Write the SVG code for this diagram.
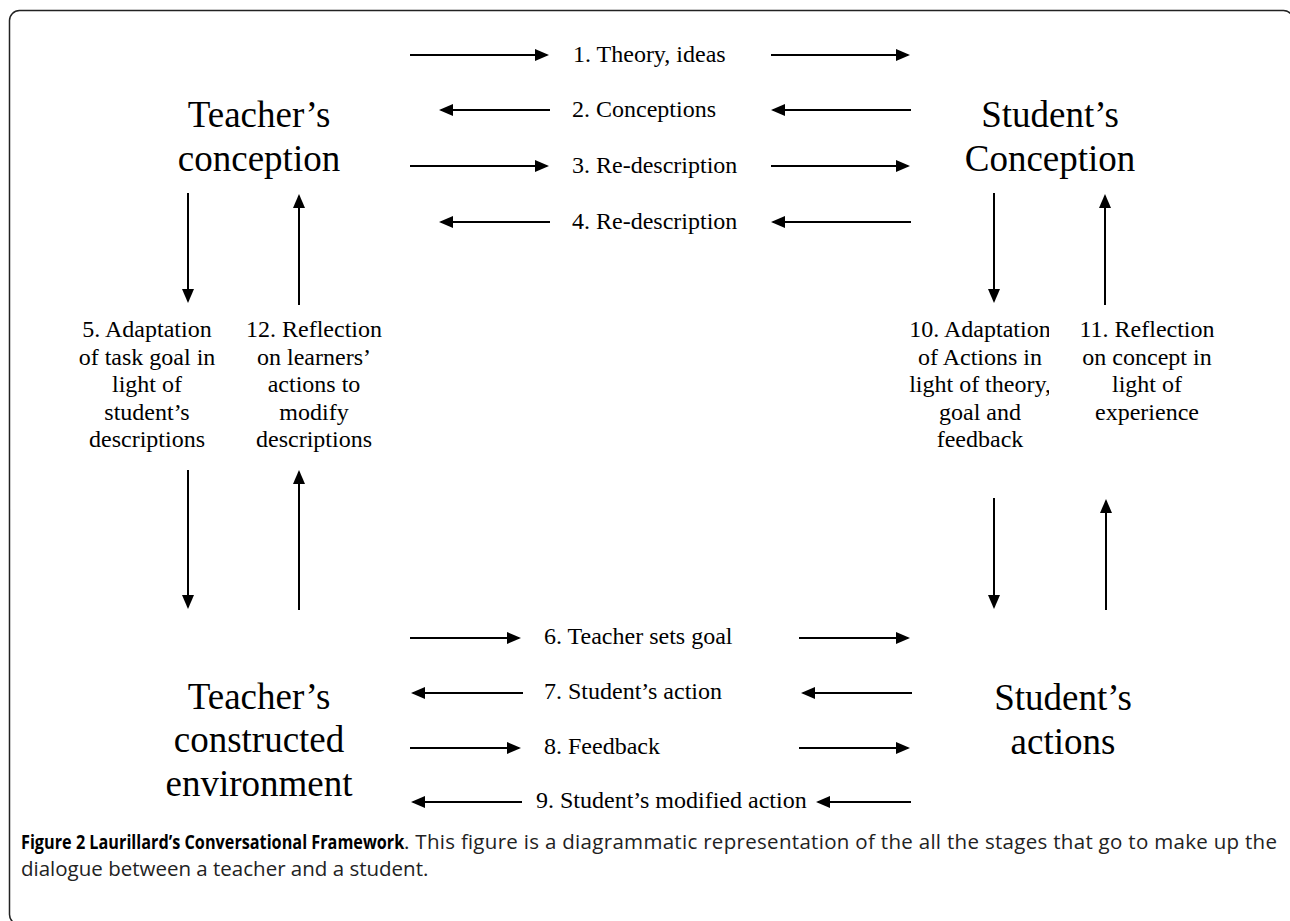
<svg xmlns="http://www.w3.org/2000/svg" width="1290" height="921" viewBox="0 0 1290 921">
<style>
.big{font-family:"Liberation Serif","Times New Roman",serif;font-size:37px;fill:#000;text-anchor:middle}
.lab{font-family:"Liberation Serif","Times New Roman",serif;font-size:24px;fill:#000}
.mid{text-anchor:middle}
.cap{font-family:"Open Sans","Noto Sans",sans-serif;font-size:20.5px;fill:#222}
.b{font-weight:bold;fill:#000;font-size:19.5px}
.ar{stroke:#000;stroke-width:2;fill:none;marker-end:url(#ah)}
.frame{fill:none;stroke:#222;stroke-width:1.5}
</style>
<defs>
<marker id="ah" markerWidth="14" markerHeight="12" refX="12" refY="6" orient="auto" markerUnits="userSpaceOnUse">
<path d="M0,0 L14,6 L0,12 z" fill="#000"/>
</marker>
<clipPath id="clip10"><rect x="880" y="300" width="169" height="200"/></clipPath>
</defs>
<rect class="frame" x="9.5" y="10.5" width="1284" height="914" rx="10" ry="10"/>

<g id="teacher-conception">
<text class="big" x="259" y="127">Teacher’s</text>
<text class="big" x="259" y="171">conception</text>
</g>
<g id="student-conception">
<text class="big" x="1050" y="127">Student’s</text>
<text class="big" x="1050" y="171">Conception</text>
</g>
<g id="teacher-environment">
<text class="big" x="259" y="709">Teacher’s</text>
<text class="big" x="259" y="752">constructed</text>
<text class="big" x="259" y="796">environment</text>
</g>
<g id="student-actions">
<text class="big" x="1063" y="710">Student’s</text>
<text class="big" x="1063" y="754">actions</text>
</g>

<g id="connectors">
<line class="ar" x1="410" y1="55" x2="547" y2="55"/>
<line class="ar" x1="771" y1="55" x2="908" y2="55"/>
<line class="ar" x1="550" y1="110" x2="441" y2="110"/>
<line class="ar" x1="911" y1="110" x2="773" y2="110"/>
<line class="ar" x1="410" y1="166" x2="547" y2="166"/>
<line class="ar" x1="771" y1="166" x2="908" y2="166"/>
<line class="ar" x1="550" y1="222" x2="441" y2="222"/>
<line class="ar" x1="911" y1="222" x2="773" y2="222"/>

<line class="ar" x1="188" y1="193" x2="188" y2="301"/>
<line class="ar" x1="299" y1="305" x2="299" y2="196"/>
<line class="ar" x1="994" y1="193" x2="994" y2="301"/>
<line class="ar" x1="1105" y1="305" x2="1105" y2="196"/>

<line class="ar" x1="188" y1="470" x2="188" y2="607"/>
<line class="ar" x1="299" y1="610" x2="299" y2="472"/>
<line class="ar" x1="994" y1="498" x2="994" y2="607"/>
<line class="ar" x1="1106" y1="610" x2="1106" y2="501"/>

<line class="ar" x1="410" y1="638" x2="519" y2="638"/>
<line class="ar" x1="799" y1="638" x2="908" y2="638"/>
<line class="ar" x1="523" y1="693" x2="413" y2="693"/>
<line class="ar" x1="912" y1="693" x2="803" y2="693"/>
<line class="ar" x1="410" y1="748" x2="519" y2="748"/>
<line class="ar" x1="799" y1="748" x2="908" y2="748"/>
<line class="ar" x1="522" y1="802" x2="413" y2="802"/>
<line class="ar" x1="911" y1="802" x2="818" y2="802"/>
</g>

<g id="labels-top">
<text class="lab" x="573" y="62">1. Theory, ideas</text>
<text class="lab" x="572" y="117">2. Conceptions</text>
<text class="lab" x="572" y="173">3. Re-description</text>
<text class="lab" x="572" y="229">4. Re-description</text>
</g>
<g id="labels-bottom">
<text class="lab" x="544" y="644">6. Teacher sets goal</text>
<text class="lab" x="544" y="699">7. Student’s action</text>
<text class="lab" x="544" y="754">8. Feedback</text>
<text class="lab" x="536" y="808">9. Student’s modified action</text>
</g>
<g id="label-5">
<text class="lab mid" x="147" y="337">5. Adaptation</text>
<text class="lab mid" x="147" y="365">of task goal in</text>
<text class="lab mid" x="147" y="392">light of</text>
<text class="lab mid" x="147" y="420">student’s</text>
<text class="lab mid" x="147" y="447">descriptions</text>
</g>
<g id="label-12">
<text class="lab mid" x="314" y="337">12. Reflection</text>
<text class="lab mid" x="314" y="365">on learners’</text>
<text class="lab mid" x="314" y="392">actions to</text>
<text class="lab mid" x="314" y="420">modify</text>
<text class="lab mid" x="314" y="447">descriptions</text>
</g>
<g id="label-10" clip-path="url(#clip10)">
<text class="lab mid" x="980" y="337">10. Adaptation</text>
<text class="lab mid" x="980" y="365">of Actions in</text>
<text class="lab mid" x="980" y="392">light of theory,</text>
<text class="lab mid" x="980" y="420">goal and</text>
<text class="lab mid" x="980" y="447">feedback</text>
</g>
<g id="label-11">
<text class="lab mid" x="1147" y="337">11. Reflection</text>
<text class="lab mid" x="1147" y="365">on concept in</text>
<text class="lab mid" x="1147" y="392">light of</text>
<text class="lab mid" x="1147" y="420">experience</text>
</g>

<g id="caption">
<text class="cap b" transform="translate(21 849) scale(0.8326 1)" x="0" y="0">Figure 2 Laurillard’s Conversational Framework</text>
<text class="cap" x="404" y="849" textLength="873" lengthAdjust="spacing">. This figure is a diagrammatic representation of the all the stages that go to make up the</text>
<text class="cap" x="21" y="876">dialogue between a teacher and a student.</text>
</g>
</svg>
